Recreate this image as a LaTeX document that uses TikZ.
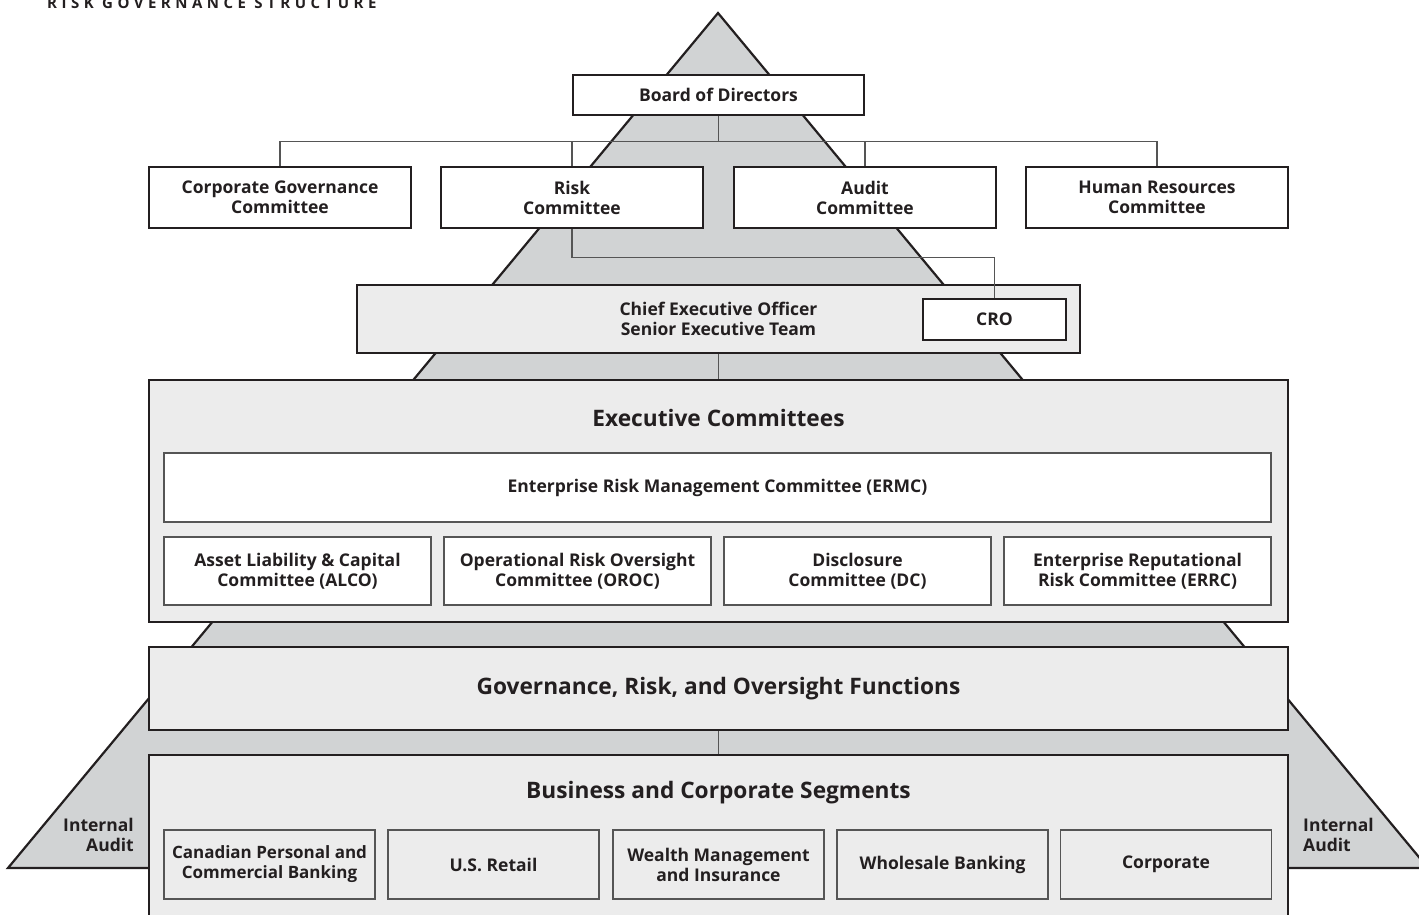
\documentclass[tikz,border=0pt]{standalone}
\usepackage{fontspec}
\setmainfont{Open Sans}
\definecolor{pyramid}{HTML}{D1D3D4}
\definecolor{panelgray}{HTML}{ECECEC}
\definecolor{linkgray}{HTML}{555555}
\definecolor{ink}{HTML}{231F20}

\begin{document}
\begin{tikzpicture}[x=1pt,y=-1pt,
	box/.style={draw=ink,line width=2.2pt,fill=white,align=center,inner sep=0pt,
		text=ink,font=\bfseries\fontsize{17.5}{20}\selectfont},
	panel/.style={box,fill=panelgray},
	sub/.style={box,draw=linkgray,line width=1.2pt},
	head/.style={text=ink,font=\bfseries\fontsize{22.7}{26}\selectfont},
	link/.style={draw=linkgray,line width=1.2pt}]
	\useasboundingbox (0,0) rectangle (1419,914);
	\node[anchor=base west,inner sep=0pt,text=ink,font=\bfseries\fontsize{15}{17}\selectfont\addfontfeatures{LetterSpace=30}] (title) at (47,8) {RISK GOVERNANCE STRUCTURE};
	\filldraw[fill=pyramid,draw=ink,line width=2.2pt] (718,13) -- (1428,868) -- (8,868) -- cycle;
	\node[text=ink,font=\bfseries\fontsize{17.5}{20}\selectfont,align=right,anchor=east,inner sep=0pt] (ialeft) at (134,835) {Internal\\Audit};
	\node[text=ink,font=\bfseries\fontsize{17.5}{20}\selectfont,align=left,anchor=west,inner sep=0pt] (iaright) at (1303,835) {Internal\\Audit};
	\node[box,minimum width=291,minimum height=40] (board) at (718.5,95) {Board of Directors};
	\node[box,minimum width=262,minimum height=61] (corp) at (280,197.5) {Corporate Governance\\Committee};
	\node[box,minimum width=262,minimum height=61] (risk) at (572,197.5) {Risk\\Committee};
	\node[box,minimum width=262,minimum height=61] (audit) at (865,197.5) {Audit\\Committee};
	\node[box,minimum width=262,minimum height=61] (hr) at (1157,197.5) {Human Resources\\Committee};
	\foreach \c in {corp,risk,audit,hr}
		\draw[link] (board.south) -- ++(0,25) -| (\c.north);
	\node[panel,minimum width=723,minimum height=68] (ceo) at (718.5,319) {Chief Executive Officer\\Senior Executive Team};
	\node[box,minimum width=143,minimum height=41] (cro) at (994.5,319.5) {CRO};
	\draw[link] (risk.south) -- ++(0,28) -| (cro.north);
	\node[panel,minimum width=1139,minimum height=242] (exec) at (718.5,501) {};
	\draw[link] (ceo.south) -- (exec.north);
	\node[head] (exectitle) at (718.5,418) {Executive Committees};
	\node[sub,minimum width=1107,minimum height=69] (ermc) at (717.5,487.5) {Enterprise Risk Management Committee (ERMC)};
	\node[sub,minimum width=267,minimum height=68] (alco) at (297.5,571) {Asset Liability \& Capital\\Committee (ALCO)};
	\node[sub,minimum width=267,minimum height=68] (oroc) at (577.5,571) {Operational Risk Oversight\\Committee (OROC)};
	\node[sub,minimum width=267,minimum height=68] (dc) at (857.5,571) {Disclosure\\Committee (DC)};
	\node[sub,minimum width=267,minimum height=68] (errc) at (1137.5,571) {Enterprise Reputational\\Risk Committee (ERRC)};
	\node[panel,minimum width=1139,minimum height=83,font=\bfseries\fontsize{22.7}{26}\selectfont] (gov) at (718.5,688.5) {Governance, Risk, and Oversight Functions};
	\node[panel,minimum width=1139,minimum height=205] (bus) at (718.5,857.5) {};
	\draw[link] (gov.south) -- (bus.north);
	\node[head] (bustitle) at (718.5,793) {Business and Corporate Segments};
	\node[sub,fill=panelgray,minimum width=211,minimum height=69,font=\bfseries\fontsize{17}{20}\selectfont] (cpcb) at (269.5,864.5) {Canadian Personal and\\Commercial Banking};
	\node[sub,fill=panelgray,minimum width=211,minimum height=69] (usr) at (493.5,864.5) {U.S. Retail};
	\node[sub,fill=panelgray,minimum width=211,minimum height=69] (wmi) at (718.5,864.5) {Wealth Management\\and Insurance};
	\node[sub,fill=panelgray,minimum width=211,minimum height=69] (wb) at (942.5,864.5) {Wholesale Banking};
	\node[sub,fill=panelgray,minimum width=211,minimum height=69] (corpseg) at (1166,864.5) {Corporate};
\end{tikzpicture}
\end{document}
